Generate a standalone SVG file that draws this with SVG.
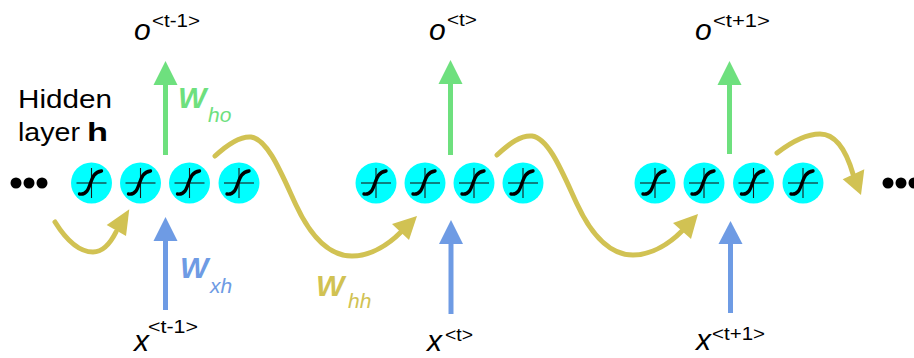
<svg xmlns="http://www.w3.org/2000/svg" xmlns:xlink="http://www.w3.org/1999/xlink" width="914" height="358" viewBox="0 0 914 358">
  <style>
    text { font-family: "Liberation Sans", Arial, sans-serif; fill: #000; }
    .var { font-size: 30px; font-style: italic; }
    .sup { font-size: 19px; }
    .lbl { font-size: 26px; }
    .wt { font-size: 30px; font-weight: bold; font-style: italic; }
    .sub { font-size: 21px; font-style: italic; }
    .neuron { fill: #00ffff; }
    .axis { stroke: #1a1a1a; stroke-width: 1.1; fill: none; }
    .sig { stroke: #000; stroke-width: 3.4; fill: none; stroke-linecap: round; }
    .out { stroke: #6ee07e; stroke-width: 5; fill: none; }
    .outhead { fill: #6ee07e; }
    .in { stroke: #6e9be4; stroke-width: 5; fill: none; }
    .inhead { fill: #6e9be4; }
    .rec { stroke: #d1c253; stroke-width: 5; fill: none; stroke-linecap: round; }
    .rechead { fill: #d1c253; }
    .dot { fill: #000; }
    .green { fill: #6ee07e; }
    .blue { fill: #6e9be4; }
    .olive { fill: #d1c253; }
  </style>
  <defs>
    <!-- one neuron: cyan disc with axes and a sigmoid stroke -->
    <g id="unit">
      <circle class="neuron" cx="0" cy="0" r="20.5"/>
      <line class="axis" x1="-15" y1="0" x2="15" y2="0"/>
      <line class="axis" x1="0" y1="-15" x2="0" y2="15"/>
      <path class="sig" d="M -12,11 C -5,12 -3,6 -1,0 C 1,-6 3,-11 10,-12"/>
    </g>
  </defs>

  <rect width="914" height="358" fill="#fff"/>

  <!-- hidden layer at t-1 -->
  <g id="h_tm1">
    <use xlink:href="#unit" href="#unit" x="91.5" y="183"/>
    <use xlink:href="#unit" href="#unit" x="140.5" y="183"/>
    <use xlink:href="#unit" href="#unit" x="189.5" y="183"/>
    <use xlink:href="#unit" href="#unit" x="239" y="183"/>
  </g>
  <!-- hidden layer at t -->
  <g id="h_t">
    <use xlink:href="#unit" href="#unit" x="376" y="183"/>
    <use xlink:href="#unit" href="#unit" x="425" y="183"/>
    <use xlink:href="#unit" href="#unit" x="474" y="183"/>
    <use xlink:href="#unit" href="#unit" x="523" y="183"/>
  </g>
  <!-- hidden layer at t+1 -->
  <g id="h_tp1">
    <use xlink:href="#unit" href="#unit" x="655" y="183"/>
    <use xlink:href="#unit" href="#unit" x="704" y="183"/>
    <use xlink:href="#unit" href="#unit" x="753.5" y="183"/>
    <use xlink:href="#unit" href="#unit" x="803" y="183"/>
  </g>

  <!-- continuation dots -->
  <g id="dots_left">
    <circle class="dot" cx="16" cy="183" r="5.5"/>
    <circle class="dot" cx="29" cy="183" r="5.5"/>
    <circle class="dot" cx="42" cy="183" r="5.5"/>
  </g>
  <g id="dots_right">
    <circle class="dot" cx="888" cy="183" r="5.5"/>
    <circle class="dot" cx="901" cy="183" r="5.5"/>
    <circle class="dot" cx="914" cy="183" r="5.5"/>
  </g>

  <!-- output labels -->
  <g id="o_tm1">
    <text class="var" x="134" y="40">o</text>
    <text class="sup" x="152" y="27" textLength="48" lengthAdjust="spacingAndGlyphs">&lt;t-1&gt;</text>
  </g>
  <g id="o_t">
    <text class="var" x="429" y="40">o</text>
    <text class="sup" x="447" y="26" textLength="30" lengthAdjust="spacingAndGlyphs">&lt;t&gt;</text>
  </g>
  <g id="o_tp1">
    <text class="var" x="695" y="40">o</text>
    <text class="sup" x="713" y="27" textLength="57" lengthAdjust="spacingAndGlyphs">&lt;t+1&gt;</text>
  </g>

  <!-- input labels -->
  <g id="x_tm1">
    <text class="var" x="134" y="351">x</text>
    <text class="sup" x="148" y="333" textLength="50" lengthAdjust="spacingAndGlyphs">&lt;t-1&gt;</text>
  </g>
  <g id="x_t">
    <text class="var" x="427" y="351">x</text>
    <text class="sup" x="445" y="341" textLength="28" lengthAdjust="spacingAndGlyphs">&lt;t&gt;</text>
  </g>
  <g id="x_tp1">
    <text class="var" x="696" y="350">x</text>
    <text class="sup" x="712" y="340" textLength="53" lengthAdjust="spacingAndGlyphs">&lt;t+1&gt;</text>
  </g>

  <!-- layer caption -->
  <g id="caption">
    <text class="lbl" x="18" y="108" textLength="94" lengthAdjust="spacingAndGlyphs">Hidden</text>
    <text class="lbl" x="18" y="141"><tspan textLength="62" lengthAdjust="spacingAndGlyphs">layer</tspan><tspan x="87" font-weight="bold" textLength="21" lengthAdjust="spacingAndGlyphs">h</tspan></text>
  </g>

  <!-- weight labels -->
  <g id="w_ho">
    <text class="wt green" x="178" y="108">W</text>
    <text class="sub green" x="208" y="122">ho</text>
  </g>
  <g id="w_xh">
    <text class="wt blue" x="180" y="278">W</text>
    <text class="sub blue" x="210" y="293">xh</text>
  </g>
  <g id="w_hh">
    <text class="wt olive" x="316" y="296">W</text>
    <text class="sub olive" x="348" y="308">hh</text>
  </g>

  <!-- connectors -->
  <g id="connectors">
    <!-- hidden to output -->
    <line class="out" x1="165.5" y1="155" x2="165.5" y2="82"/>
    <polygon class="outhead" points="165.5,61 153.5,85 177.5,85"/>
    <line class="out" x1="450.5" y1="155" x2="450.5" y2="82"/>
    <polygon class="outhead" points="450.5,60 438.5,84 462.5,84"/>
    <line class="out" x1="729.5" y1="154" x2="729.5" y2="82"/>
    <polygon class="outhead" points="729.5,61 717.5,85 741.5,85"/>

    <!-- input to hidden -->
    <line class="in" x1="165.5" y1="310" x2="165.5" y2="238"/>
    <polygon class="inhead" points="165.5,217 153.5,241 177.5,241"/>
    <line class="in" x1="451" y1="314" x2="451" y2="241"/>
    <polygon class="inhead" points="451,220 439,244 463,244"/>
    <line class="in" x1="730.5" y1="313" x2="730.5" y2="241"/>
    <polygon class="inhead" points="730.5,221 718.5,244 742.5,244"/>

    <!-- hidden to hidden (recurrent) -->
    <path class="rec" d="M 55,222 C 65,238 78,252 93,252 C 103,252 110,244 116,232"/>
    <polygon class="rechead" points="129.3,209.3 106.7,225 126,236"/>

    <path class="rec" d="M 215,156 C 228,144 240,136 251,137 C 268,139 282,175 296,205 C 310,235 328,256 352,256 C 372,256 390,243 401,232"/>
    <polygon class="rechead" points="417,216 392,224 409,240"/>

    <path class="rec" d="M 497,155 C 510,143 521,135 532,136 C 549,138 563,174 577,204 C 591,234 609,255 633,255 C 653,255 671,242 682,231"/>
    <polygon class="rechead" points="698,214 673,223 691,239"/>

    <path class="rec" d="M 777,153 C 790,143 805,134 820,134 C 835,134 846,150 853,174"/>
    <polygon class="rechead" points="861,195 842.7,179.3 864.3,169.3"/>
  </g>
</svg>
